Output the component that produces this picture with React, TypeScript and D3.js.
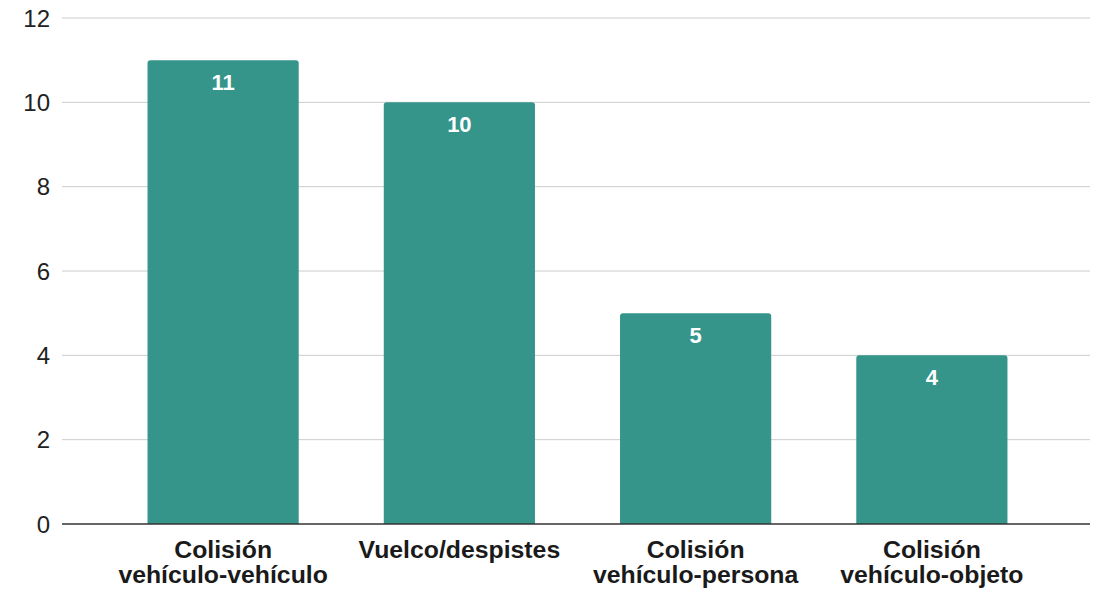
import React from "react";
import * as d3 from "d3";

const categories: string[][] = [
  ["Colisión", "vehículo-vehículo"],
  ["Vuelco/despistes"],
  ["Colisión", "vehículo-persona"],
  ["Colisión", "vehículo-objeto"],
];
const values: number[] = [11, 10, 5, 4];
const yTicks: number[] = [0, 2, 4, 6, 8, 10, 12];

const W = 1100;
const H = 590;
const plotLeft = 62;
const plotRight = 1090;
const yTop = 18;
const yBottom = 524;

export default function App() {
  const keys = categories.map((c) => c.join(" "));
  const x = d3
    .scaleBand<string>()
    .domain(keys)
    .range([105, 1050])
    .paddingInner(0.36)
    .paddingOuter(0.18);
  const y = d3.scaleLinear().domain([0, 12]).range([yBottom, yTop]);
  const r = 3;
  const barPath = (x0: number, y0: number, w: number, h: number) => {
    const p = d3.path();
    p.moveTo(x0, y0 + h);
    p.lineTo(x0, y0 + r);
    p.arcTo(x0, y0, x0 + r, y0, r);
    p.lineTo(x0 + w - r, y0);
    p.arcTo(x0 + w, y0, x0 + w, y0 + r, r);
    p.lineTo(x0 + w, y0 + h);
    p.closePath();
    return p.toString();
  };
  const font = "'Liberation Sans', Arial, sans-serif";
  return (
    <div style={{ position: "absolute", left: 0, top: 0 }}>
      <svg width={W} height={H} style={{ display: "block", background: "#fff" }}>
        {yTicks.map((t) => (
          <g key={t}>
            {t !== 0 && (
              <line x1={plotLeft} x2={plotRight} y1={y(t)} y2={y(t)} stroke="#cccccc" strokeWidth={1} />
            )}
            <text
              x={50}
              y={y(t)}
              dy="0.36em"
              textAnchor="end"
              fontFamily={font}
              fontSize={24}
              fill="#222"
            >
              {t}
            </text>
          </g>
        ))}
        {values.map((v, i) => {
          const k = keys[i];
          const bx = x(k)!;
          const bw = x.bandwidth();
          const by = y(v);
          return (
            <g key={k}>
              <path d={barPath(bx, by, bw, yBottom - by)} fill="#36958b" />
              <text
                x={bx + bw / 2}
                y={by + 29.5}
                textAnchor="middle"
                fontFamily={font}
                fontWeight="bold"
                fontSize={22}
                fill="#fff"
              >
                {v}
              </text>
            </g>
          );
        })}
        <line x1={plotLeft} x2={plotRight} y1={yBottom} y2={yBottom} stroke="#333" strokeWidth={1.5} />
        {categories.map((lines, i) => {
          const k = keys[i];
          const cx = x(k)! + x.bandwidth() / 2;
          return (
            <text
              key={k}
              textAnchor="middle"
              fontFamily={font}
              fontWeight="bold"
              fontSize={24.8}
              fill="#1a1a1a"
            >
              {lines.map((ln, j) => (
                <tspan key={j} x={cx} y={558 + j * 24.5}>
                  {ln}
                </tspan>
              ))}
            </text>
          );
        })}
      </svg>
    </div>
  );
}
